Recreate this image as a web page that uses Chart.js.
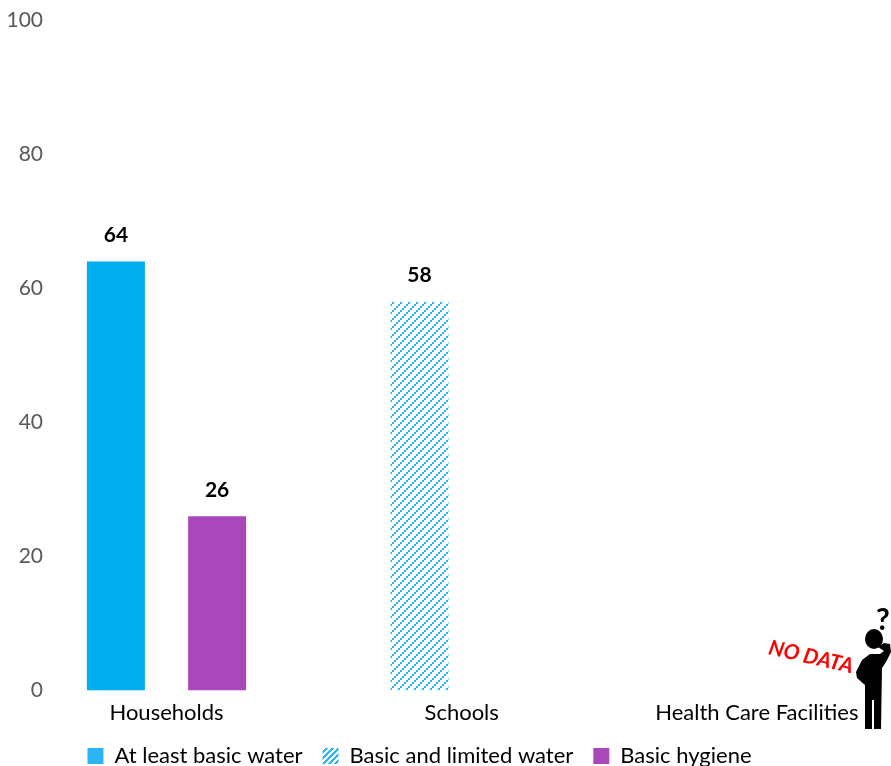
<!DOCTYPE html>
<html>
<head>
<meta charset="utf-8">
<script src="https://cdn.jsdelivr.net/npm/chart.js@4"></script>
<style>
  html, body { margin: 0; padding: 0; background: #fff; }
  #wrap { width: 891px; height: 766px; overflow: hidden; }
</style>
</head>
<body>
<div id="wrap"><canvas id="myChart" width="891" height="766"></canvas></div>
<script>
const groups = ["Households", "Schools", "Health Care Facilities"];
const basicWater = [64, null, null];
const limitedWater = [null, 58, null];
const basicHygiene = [26, null, null];
const seriesNames = ["At least basic water", "Basic and limited water", "Basic hygiene"];
const yTicks = [0, 20, 40, 60, 80, 100];
// axis labels in the picture do not sit under the bar groups, so they get their own axis
const shownLabels = ["", "", "", "Households", "", "", "", "", "", "", "Schools", "", "", "", "", "", "", "Health Care Facilities", ""];

const FONT = "Lato";
const BLUE = "#00AEEF";
const LEGEND_BLUE = "#29B5F6";
const PURPLE = "#AB47BC";

// fine stepped diagonal used on the bar
function barHatch() {
  var tile = document.createElement("canvas");
  tile.width = 8;
  tile.height = 8;
  var c = tile.getContext("2d");
  c.fillStyle = LEGEND_BLUE;
  for (var i = 0; i < 8; i += 2) {
    c.fillRect(6 - i, i, 2, 2);
  }
  return c.createPattern(tile, "repeat");
}

// the legend swatch has thicker stripes than the bar
function legendHatch() {
  var tile = document.createElement("canvas");
  tile.width = 6;
  tile.height = 6;
  var c = tile.getContext("2d");
  c.fillStyle = LEGEND_BLUE;
  for (var i = 0; i < 6; i++) {
    c.fillRect(5 - i, i, 3, 1);
    c.fillRect(-1 - i, i, 3, 1);
    c.fillRect(11 - i, i, 3, 1);
  }
  return c.createPattern(tile, "repeat");
}

// tick labels run a little past their axis box here, chart.js would cut them
function noLabelClip(axis) {
  axis._computeLabelArea = function () {};
}

const barLabels = {
  id: "barLabels",
  afterDatasetsDraw(chart) {
    var ctx = chart.ctx;
    ctx.save();
    ctx.fillStyle = "#000";
    ctx.font = "bold 21px " + FONT;
    ctx.textAlign = "center";
    ctx.textBaseline = "middle";
    chart.data.datasets.forEach((ds, i) => {
      chart.getDatasetMeta(i).data.forEach((bar, j) => {
        if (ds.data[j] == null) return;
        ctx.fillText(ds.data[j], bar.x, bar.y - 26);
      });
    });
    ctx.restore();
  },
};

const noData = {
  id: "noData",
  afterDraw(chart) {
    var ctx = chart.ctx;
    ctx.save();
    ctx.translate(811, 657);
    ctx.rotate(13 * Math.PI / 180);
    ctx.fillStyle = "#FF0000";
    ctx.font = "italic bold 21px " + FONT;
    ctx.textAlign = "center";
    ctx.textBaseline = "middle";
    ctx.fillText("NO DATA", 0, 0);
    ctx.restore();

    // little thinking man
    ctx.save();
    ctx.fillStyle = "#000";
    ctx.beginPath();
    ctx.ellipse(874, 639, 9, 10, 0, 0, Math.PI * 2);
    ctx.fill();
    ctx.beginPath();
    ctx.moveTo(862, 660);
    ctx.lineTo(870, 654);
    ctx.lineTo(880, 654);
    ctx.lineTo(884, 651);
    ctx.lineTo(878, 647);
    ctx.lineTo(884, 643);
    ctx.lineTo(890, 644);
    ctx.lineTo(891, 652);
    ctx.lineTo(886, 662);
    ctx.lineTo(882, 668);
    ctx.lineTo(881, 729);
    ctx.lineTo(874, 729);
    ctx.lineTo(874, 700);
    ctx.lineTo(872, 700);
    ctx.lineTo(872, 729);
    ctx.lineTo(865, 729);
    ctx.lineTo(865, 685);
    ctx.lineTo(857, 678);
    ctx.lineTo(856, 672);
    ctx.closePath();
    ctx.fill();
    ctx.font = "bold 30px " + FONT;
    ctx.textAlign = "center";
    ctx.textBaseline = "middle";
    ctx.fillText("?", 883, 620);
    ctx.restore();
  },
};

new Chart(document.getElementById("myChart"), {
  type: "bar",
  data: {
    labels: groups,
    datasets: [
      { label: seriesNames[0], data: basicWater, backgroundColor: BLUE },
      { label: seriesNames[1], data: limitedWater, backgroundColor: barHatch() },
      { label: seriesNames[2], data: basicHygiene, backgroundColor: PURPLE },
    ],
  },
  options: {
    responsive: false,
    animation: false,
    layout: { padding: { top: 20, right: 92, bottom: -11, left: 0 } },
    datasets: { bar: { categoryPercentage: 0.6, barPercentage: 58 / 50.6 } },
    scales: {
      x: { display: false },
      x2: {
        type: "category",
        position: "bottom",
        labels: shownLabels,
        offset: false,
        afterFit(axis) {
          axis.height -= 10;
          noLabelClip(axis);
        },
        grid: { display: false, drawTicks: false },
        border: { display: false },
        ticks: {
          autoSkip: false,
          maxRotation: 0,
          padding: 9,
          color: "#000",
          font: { family: FONT, size: 22 },
        },
      },
      y: {
        min: 0,
        max: 100,
        afterBuildTicks(axis) { axis.ticks = yTicks.map((v) => ({ value: v })); },
        afterFit(axis) {
          axis.width = 40;
          noLabelClip(axis);
        },
        grid: { display: false, drawTicks: false },
        border: { display: false },
        ticks: {
          padding: -3,
          color: "#595959",
          font: { family: FONT, size: 21 },
        },
      },
    },
    plugins: {
      title: { display: false },
      tooltip: { enabled: false },
      legend: {
        position: "bottom",
        fullSize: false,
        labels: {
          boxWidth: 16,
          boxHeight: 16,
          padding: 20,
          color: "#000",
          font: { family: FONT, size: 22 },
          generateLabels(chart) {
            var items = Chart.defaults.plugins.legend.labels.generateLabels(chart);
            items[0].fillStyle = LEGEND_BLUE;
            items[1].fillStyle = legendHatch();
            items.forEach((it) => { it.lineWidth = 0; });
            return items;
          },
        },
      },
    },
  },
  plugins: [barLabels, noData],
});
</script>
</body>
</html>
